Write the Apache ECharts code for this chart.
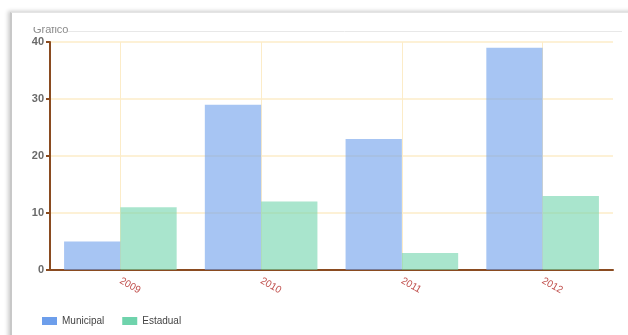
<!DOCTYPE html>
<html>
<head>
<meta charset="utf-8">
<script src="https://cdn.jsdelivr.net/npm/echarts@6/dist/echarts.min.js"></script>
<style>
  html, body { margin: 0; padding: 0; background: #fff; width: 628px; height: 335px; overflow: hidden; }
  #card {
    position: absolute; left: 10px; top: 12px; width: 640px; height: 340px;
    background: #fff; border-left: 2px solid #c8c8c8; border-top: 1px solid #e4e4e4;
    box-shadow: -2px -1px 4px rgba(0,0,0,0.2);
  }
  #chart { position: absolute; left: 0; top: 27px; width: 628px; height: 308px; }
</style>
</head>
<body>
<div id="card"></div>
<div id="chart"></div>
<script>
(function () {
    'use strict';

    var years = ['2009', '2010', '2011', '2012'];
    var municipal = [5, 29, 23, 39];
    var estadual = [11, 12, 3, 13];

    var brown = '#8a4b20';
    var gridColor = '#fcecc8';

    var mychart = echarts.init(document.getElementById('chart'));
    mychart.setOption({
        animation: false,
        title: {
            text: 'Gráfico', left: 28, top: -8,
            textStyle: { fontSize: 11, fontWeight: 'normal', color: '#8a8a8a', fontFamily: 'Arial' }
        },
        graphic: [{
            type: 'line', shape: { x1: 67, y1: 4.5, x2: 622, y2: 4.5 },
            style: { stroke: '#e8e8e8', lineWidth: 1 }
        }],
        grid: { left: 50, right: 15, top: 15, bottom: 65 },
        legend: {
            left: 37, top: 284, itemWidth: 15, itemHeight: 8, itemGap: 18, icon: 'rect',
            textStyle: { fontSize: 10, color: '#444', fontFamily: 'Arial' },
            data: [
                { name: 'Municipal', itemStyle: { color: '#6d9eeb', opacity: 1 } },
                { name: 'Estadual', itemStyle: { color: '#6fd3ac', opacity: 1 } }
            ]
        },
        xAxis: {
            type: 'category', data: years,
            axisLine: { lineStyle: { color: brown, width: 2 } },
            axisTick: { alignWithLabel: true, length: 4, lineStyle: { color: brown, width: 2 } },
            axisLabel: { rotate: -30, margin: 10, fontSize: 10, color: '#c0504d', fontFamily: 'Arial' },
            splitLine: { show: true, alignWithLabel: true, lineStyle: { color: gridColor, width: 1 } }
        },
        yAxis: {
            type: 'value', min: 0, max: 40, interval: 10,
            axisLine: { show: true, lineStyle: { color: brown, width: 2 } },
            axisTick: { show: true, length: 4, lineStyle: { color: brown, width: 2 } },
            axisLabel: { fontSize: 11, fontWeight: 'bold', color: '#6a6a6a', margin: 6, fontFamily: 'Arial' },
            splitLine: { lineStyle: { color: gridColor, width: 1.5 } }
        },
        series: [
            {
                name: 'Municipal', type: 'bar', data: municipal,
                barGap: 0, barCategoryGap: '20%',
                itemStyle: { color: '#6d9eeb', opacity: 0.6 }
            },
            {
                name: 'Estadual', type: 'bar', data: estadual,
                barGap: 0, barCategoryGap: '20%',
                itemStyle: { color: '#6fd3ac', opacity: 0.6 }
            }
        ]
    });
})();
</script>
</body>
</html>
